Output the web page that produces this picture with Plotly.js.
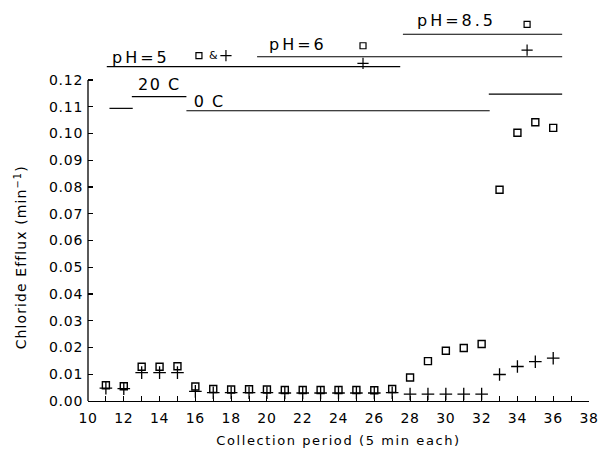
<!DOCTYPE html>
<html>
<head>
<meta charset="utf-8">
<script src="https://cdn.plot.ly/plotly-3.0.1.min.js"></script>
<style>
  html, body { margin: 0; padding: 0; background: #fff; }
  .xtick text, .ytick text { letter-spacing: 0.7px; }
  .xtitle { letter-spacing: 1.6px; }
</style>
</head>
<body>
<div id="chart" style="width:599px;height:459px;"></div>
<script>
// Collection periods (5 min each)
const periods = [11, 12, 13, 14, 15, 16, 17, 18, 19, 20, 21, 22, 23, 24, 25, 26, 27, 28, 29, 30, 31, 32, 33, 34, 35, 36];
// Chloride efflux (min^-1), open squares
const effluxSquare = [0.0059, 0.0055, 0.0128, 0.0128, 0.0130, 0.0054, 0.0045, 0.0043, 0.0044, 0.0043, 0.0041, 0.0041, 0.0041, 0.0041, 0.0041, 0.0040, 0.0045,
                      0.0088, 0.0149, 0.0188, 0.0198, 0.0213, 0.0790, 0.1003, 0.1042, 0.1021];
// Chloride efflux (min^-1), plus signs
const effluxPlus = [0.0048, 0.0046, 0.0106, 0.0106, 0.0106, 0.0036, 0.0031, 0.0031, 0.0031, 0.0031, 0.0030, 0.0030, 0.0030, 0.0030, 0.0030, 0.0030, 0.0031,
                    0.0026, 0.0026, 0.0026, 0.0026, 0.0026, 0.0099, 0.0129, 0.0147, 0.0160];

// Experimental conditions (period ranges)
const phSegStart = [11.05, 19.45, 27.6];
const phSegEnd   = [27.45, 36.5, 36.5];
const tempSegStart = [11.2, 12.45, 15.5, 32.4];
const tempSegEnd   = [12.5, 15.5, 32.45, 36.5];
const phLabels = ['pH=5', 'pH=6', 'pH=8.5'];
const tempLabels = ['20 C', '0 C'];

// Tick labels
const yTickVals = [0, 0.01, 0.02, 0.03, 0.04, 0.05, 0.06, 0.07, 0.08, 0.09, 0.10, 0.11, 0.12];
const yTickText = ['0.00', '0.01', '0.02', '0.03', '0.04', '0.05', '0.06', '0.07', '0.08', '0.09', '0.10', '0.11', '0.12'];
const xTitle = 'Collection period (5 min each)';
const yTitle = 'Chloride Efflux (min<sup>−1</sup>)';

// ---- drawing ----
const ink = '#000';
const phLevels = [0.1250, 0.1287, 0.1371];
const tempLevels = [0.1094, 0.1138, 0.1085, 0.1147];

function segTrace(starts, ends, levels) {
  const xs = [], ys = [];
  for (let i = 0; i < starts.length; i++) {
    xs.push(starts[i], ends[i], null);
    ys.push(levels[i], levels[i], null);
  }
  return { x: xs, y: ys, mode: 'lines', line: { color: ink, width: 1.2 },
           hoverinfo: 'skip', showlegend: false, cliponaxis: false };
}

const traces = [
  segTrace(phSegStart, phSegEnd, phLevels),
  segTrace(tempSegStart, tempSegEnd, tempLevels),
  { x: periods, y: effluxSquare, mode: 'markers', showlegend: false, cliponaxis: false,
    marker: { symbol: 'square-open', size: 7, color: ink, line: { width: 1.4, color: ink } } },
  { x: periods, y: effluxPlus, mode: 'markers', showlegend: false, cliponaxis: false,
    marker: { symbol: 'cross-thin-open', size: 9, color: ink, line: { width: 1.3, color: ink } } },
  // key glyphs in the condition header
  { x: [16.2, 25.37, 34.54], y: [0.1291, 0.1328, 0.1408], mode: 'markers', showlegend: false, cliponaxis: false,
    hoverinfo: 'skip',
    marker: { symbol: 'square-open', size: 6, color: ink, line: { width: 1.2, color: ink } } },
  { x: [17.71, 25.37, 34.54], y: [0.1291, 0.1262, 0.1312], mode: 'markers', showlegend: false, cliponaxis: false,
    hoverinfo: 'skip',
    marker: { symbol: 'cross-thin-open', size: 8, color: ink, line: { width: 1.2, color: ink } } }
];

const labelFont = { family: 'DejaVu Sans', size: 16, color: ink };
const annotations = [
  { x: 12.96, y: 0.1243, text: phLabels[0] },
  { x: 21.74, y: 0.1289, text: phLabels[1] },
  { x: 30.57, y: 0.1380, text: phLabels[2] },
  { x: 14.0, y: 0.1141, text: tempLabels[0] },
  { x: 16.76, y: 0.1077, text: tempLabels[1] }
].map(a => Object.assign({ xref: 'x', yref: 'y', xanchor: 'center', yanchor: 'bottom',
                            showarrow: false, font: labelFont }, a));
annotations.push({ x: 16.99, y: 0.1291, xref: 'x', yref: 'y', xanchor: 'center', yanchor: 'middle',
                   showarrow: false, text: '&amp;', font: { family: 'DejaVu Sans', size: 11, color: ink } });
// y-axis title, centred where the reference has it
annotations.push({ x: -0.1337, y: 0.3624, xref: 'paper', yref: 'paper', xanchor: 'center', yanchor: 'middle',
                   textangle: -90, showarrow: false, text: yTitle,
                   font: { family: 'DejaVu Sans', size: 14, color: ink } });

const layout = {
  width: 599, height: 459,
  margin: { l: 88, r: 10, t: 5, b: 58 },
  paper_bgcolor: '#fff', plot_bgcolor: '#fff',
  font: { family: 'DejaVu Sans', color: ink },
  showlegend: false,
  xaxis: {
    range: [10, 38], tick0: 10, dtick: 2,
    ticks: 'inside', ticklen: 5, tickwidth: 1.1, tickcolor: ink,
    minor: { dtick: 1, ticks: 'inside', ticklen: 5, tickwidth: 1, tickcolor: ink },
    showline: true, linecolor: ink, linewidth: 1.3,
    showgrid: false, zeroline: false,
    tickfont: { family: 'DejaVu Sans', size: 14, color: ink },
    ticklabelstandoff: 4,
    title: { text: xTitle, font: { family: 'DejaVu Sans', size: 13, color: ink }, standoff: 10 }
  },
  yaxis: {
    range: [0, 0.14804],
    tickmode: 'array', tickvals: yTickVals, ticktext: yTickText,
    ticks: 'inside', ticklen: 5, tickwidth: 1.1, tickcolor: ink,
    showline: false, showgrid: false, zeroline: false,
    tickfont: { family: 'DejaVu Sans', size: 14, color: ink },
    ticklabelstandoff: 4
  },
  shapes: [
    { type: 'line', xref: 'paper', yref: 'y', x0: 0, x1: 0, y0: 0, y1: 0.12,
      line: { color: ink, width: 1.3 } }
  ],
  annotations: annotations
};

Plotly.newPlot('chart', traces, layout, { staticPlot: true, displayModeBar: false }).then(() => {
  document.querySelectorAll('.annotation-text').forEach(t => {
    const s = t.textContent;
    if (s.indexOf('pH') === 0) t.style.letterSpacing = '3px';
    else if (s.indexOf(' C') > 0) t.style.letterSpacing = '1.5px';
    else if (s.indexOf('Chloride') === 0) t.style.letterSpacing = '1.1px';
  });
});
</script>
</body>
</html>
